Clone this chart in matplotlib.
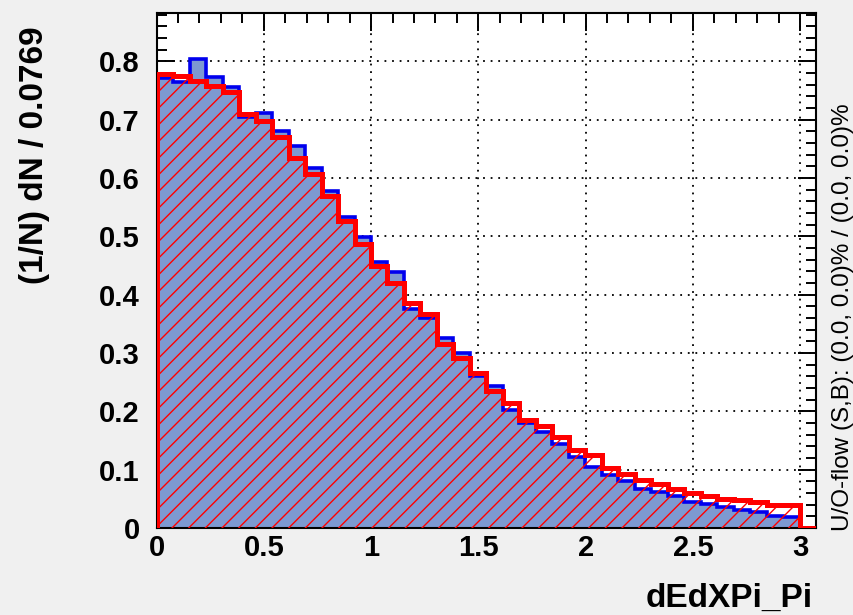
import numpy as np
import matplotlib
matplotlib.use("Agg")
import matplotlib.pyplot as plt
from matplotlib.ticker import MultipleLocator

# binning: 40 bins of width 0.0769 (from the y-axis title)
bin_width = 0.0769
n_bins = 40

# normalised histograms, one value per bin
signal = [0.771, 0.765, 0.804, 0.774, 0.756, 0.705, 0.712, 0.681, 0.655, 0.617,
          0.578, 0.534, 0.499, 0.456, 0.439, 0.375, 0.360, 0.326, 0.300, 0.260,
          0.243, 0.203, 0.180, 0.165, 0.144, 0.122, 0.105, 0.091, 0.081, 0.067,
          0.062, 0.055, 0.045, 0.041, 0.036, 0.031, 0.027, 0.021, 0.018, 0.0]
background = [0.779, 0.775, 0.767, 0.758, 0.748, 0.710, 0.697, 0.670, 0.635, 0.607,
              0.569, 0.527, 0.487, 0.449, 0.420, 0.385, 0.367, 0.316, 0.291, 0.266,
              0.235, 0.214, 0.185, 0.175, 0.156, 0.134, 0.125, 0.103, 0.093, 0.082,
              0.075, 0.067, 0.060, 0.055, 0.050, 0.048, 0.045, 0.039, 0.039, 0.0]

x_title = "dEdXPi_Pi"
y_title = "(1/N) dN / %.4f" % bin_width
flow_text = "U/O-flow (S,B): (0.0, 0.0)% / (0.0, 0.0)%"

edges = np.linspace(0, n_bins * bin_width, n_bins + 1)

plt.rcParams['font.family'] = ['Liberation Sans', 'DejaVu Sans']
plt.rcParams['hatch.linewidth'] = 1.0

fig = plt.figure(figsize=(8.54, 6.15), dpi=100, facecolor='#f0f0f0')
ax = fig.add_axes([0.1833, 0.1415, 0.7727, 0.8374])
ax.set_facecolor('white')

# signal: filled blue
ax.stairs(signal, edges, fill=True, color='#7d99d1', lw=0, zorder=1)
ax.stairs(signal, edges, baseline=0, color='#0000ee', lw=2.6, zorder=2)
# background: red hatched
ax.stairs(background, edges, fill=True, facecolor='none', edgecolor='#ff0000',
          hatch='//', lw=0, zorder=3)
ax.stairs(background, edges, baseline=0, color='#ff0000', lw=3.6, zorder=4)

ax.set_xlim(edges[0], edges[-1])
ax.set_ylim(0, 0.883)

ax.xaxis.set_major_locator(MultipleLocator(0.5))
ax.xaxis.set_minor_locator(MultipleLocator(0.1))
ax.yaxis.set_major_locator(MultipleLocator(0.1))
ax.yaxis.set_minor_locator(MultipleLocator(0.02))
ax.xaxis.set_major_formatter(matplotlib.ticker.FuncFormatter(lambda v, p: "%g" % v))
ax.yaxis.set_major_formatter(matplotlib.ticker.FuncFormatter(lambda v, p: "%g" % round(v, 2)))

ax.tick_params(which='both', direction='in', top=True, right=True, width=1.4,
               colors='black')
ax.tick_params(which='major', length=13)
ax.tick_params(which='minor', length=7)
ax.tick_params(axis='x', which='major', labelsize=21, pad=4)
ax.tick_params(axis='y', which='major', labelsize=21, pad=12)
for lab in ax.get_xticklabels() + ax.get_yticklabels():
    lab.set_fontweight('bold')

for s in ax.spines.values():
    s.set_linewidth(1.5)

ax.set_axisbelow(True)
ax.grid(True, which='major', color='black', linestyle=(0, (1, 3.2)), linewidth=1.3)

fig.text(813 / 854, 1 - 607 / 615, x_title, ha='right', va='baseline',
         fontsize=24, fontweight='bold')
fig.text(35 / 854, 1 - 26 / 615, y_title, ha='center', va='top', rotation=90,
         fontsize=24, fontweight='bold')
fig.text(843 / 854, 1 - 531 / 615, flow_text, ha='center', va='bottom', rotation=90,
         fontsize=17.5)

fig.savefig("out.png", dpi=100, facecolor=fig.get_facecolor())
